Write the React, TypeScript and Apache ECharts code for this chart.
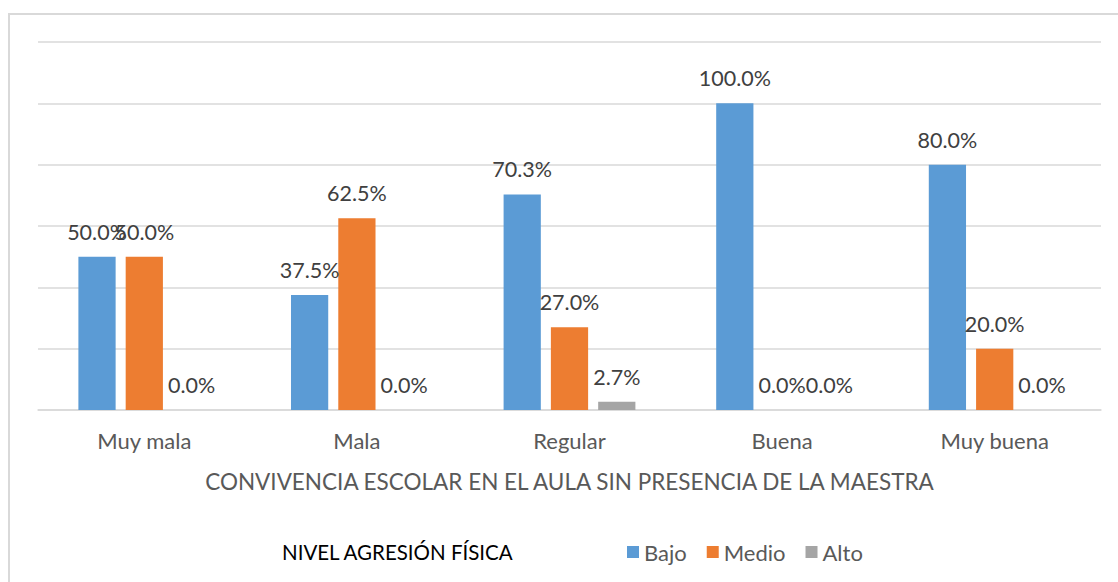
import React, { useEffect, useRef } from "react";
import * as echarts from "echarts";

const categories = ["Muy mala", "Mala", "Regular", "Buena", "Muy buena"];
const bajo = [50.0, 37.5, 70.3, 100.0, 80.0];
const medio = [50.0, 62.5, 27.0, 0.0, 20.0];
const alto = [0.0, 0.0, 2.7, 0.0, 0.0];
const seriesNames = ["Bajo", "Medio", "Alto"];
const colors = ["#5B9BD5", "#ED7D31", "#A5A5A5"];
const xTitle = "CONVIVENCIA ESCOLAR EN EL AULA SIN PRESENCIA DE LA MAESTRA";
const legendTitle = "NIVEL AGRESIÓN FÍSICA";

const FONT = "Lato, 'Open Sans', sans-serif";

export default function App() {
  const ref = useRef<HTMLDivElement>(null);
  useEffect(() => {
    document.body.style.margin = "0";
    if (!ref.current) return;
    const chart = echarts.init(ref.current, undefined, { renderer: "svg" });
    const mk = (name: string, data: number[], color: string) => ({
      name,
      type: "bar",
      data,
      barGap: "27%",
      barCategoryGap: "38%",
      itemStyle: { color },
      label: {
        show: true,
        position: "top",
        distance: 14,
        fontFamily: FONT,
        fontSize: 21.5,
        color: "#404040",
        formatter: (p: any) => Number(p.value).toFixed(1) + "%",
      },
    });
    chart.setOption({
      animation: false,
      backgroundColor: "#ffffff",
      textStyle: { fontFamily: FONT },
      grid: { left: 38, right: 17, top: 42, bottom: 172, containLabel: false },
      xAxis: {
        type: "category",
        data: categories,
        axisLine: { lineStyle: { color: "#D9D9D9", width: 1.5 } },
        axisTick: { show: false },
        axisLabel: { color: "#595959", fontSize: 22, margin: 19, fontFamily: FONT },
        name: xTitle,
        nameLocation: "middle",
        nameGap: 60,
        nameTextStyle: { color: "#595959", fontSize: 22.5, fontFamily: FONT },
      },
      yAxis: {
        type: "value",
        min: 0,
        max: 120,
        interval: 20,
        axisLabel: { show: false },
        axisLine: { show: false },
        axisTick: { show: false },
        splitLine: { lineStyle: { color: "#D9D9D9", width: 1.5 } },
      },
      legend: {
        data: seriesNames,
        left: 622,
        top: 536,
        icon: "rect",
        itemWidth: 12,
        itemHeight: 12,
        itemGap: 20,
        textStyle: { color: "#595959", fontSize: 22, fontFamily: FONT },
      },
      graphic: [
        {
          type: "rect",
          shape: { x: 9, y: 14, width: 1200, height: 700 },
          style: { fill: "none", stroke: "#D9D9D9", lineWidth: 2 },
          silent: true,
        },
        {
          type: "text",
          left: 282,
          top: 541,
          style: { text: legendTitle, fill: "#000000", fontSize: 20.5, fontFamily: FONT },
        },
      ],
      series: [
        mk(seriesNames[0], bajo, colors[0]),
        mk(seriesNames[1], medio, colors[1]),
        mk(seriesNames[2], alto, colors[2]),
      ],
    });
    return () => chart.dispose();
  }, []);
  return <div ref={ref} style={{ width: 1118, height: 582 }} />;
}
